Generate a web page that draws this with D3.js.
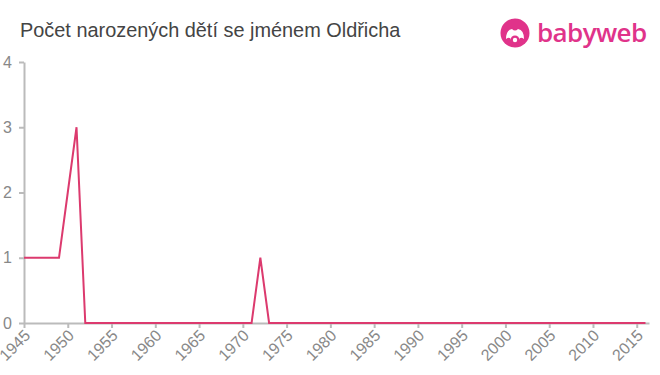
<!DOCTYPE html>
<html>
<head>
<meta charset="utf-8">
<script src="https://cdn.jsdelivr.net/npm/d3@7"></script>
<style>
    body { margin: 0; background: #fff; }
    #chart { width: 660px; height: 375px; }
    .axis path, .axis line { stroke: #bbb; stroke-width: 2; }
</style>
</head>
<body>
<div id="chart"></div>
<script>
// years 1945..2016
let years = d3.range(1945, 2017);
let counts = [1, 1, 1, 1, 1, 2, 3, 0, 0, 0,
              0, 0, 0, 0, 0, 0, 0, 0, 0, 0,
              0, 0, 0, 0, 0, 0, 0, 1, 0, 0,
              0, 0, 0, 0, 0, 0, 0, 0, 0, 0,
              0, 0, 0, 0, 0, 0, 0, 0, 0, 0,
              0, 0, 0, 0, 0, 0, 0, 0, 0, 0,
              0, 0, 0, 0, 0, 0, 0, 0, 0, 0,
              0, 0];
let xTicks = d3.range(1945, 2020, 5);
let yTicks = [0, 1, 2, 3, 4];

let data = years.map((y, i) => ({year: y, value: counts[i]}));

let margin = {top: 62, right: 11, bottom: 52, left: 24};
let width = 660 - margin.left - margin.right;
let height = 375 - margin.top - margin.bottom;
let font = "'Liberation Sans', Arial, sans-serif";

let svg = d3.select("#chart").append("svg")
    .attr("width", 660)
    .attr("height", 375);

// title
svg.append("text")
    .attr("x", 20)
    .attr("y", 37)
    .attr("fill", "#444")
    .attr("font-family", font)
    .attr("font-size", 19.9)
    .text("Počet narozených dětí se jménem Oldřicha");

// logo
let logo = svg.append("g").attr("transform", "translate(515,33)");
logo.append("circle").attr("r", 14.5).attr("fill", "#e0338a");
logo.append("path")
    .attr("d", "M-9,6 Q-9,-3 -3,-4 Q0,-1 3,-4 Q9,-3 9,6 Q5,3 4,7 L-4,7 Q-5,3 -9,6 Z")
    .attr("fill", "#fff");
logo.append("circle").attr("cx", 0).attr("cy", 7).attr("r", 4.5).attr("fill", "#e0338a");
logo.append("circle").attr("cx", 0).attr("cy", 7).attr("r", 2.2).attr("fill", "#fff");
svg.append("text")
    .attr("x", 537)
    .attr("y", 42)
    .attr("fill", "#e0338a")
    .attr("font-family", "'Open Sans', 'Noto Sans', sans-serif")
    .attr("font-weight", 600)
    .attr("font-size", 26)
    .attr("letter-spacing", "-0.6px")
    .text("babyweb");

let g = svg.append("g")
    .attr("transform", `translate(${margin.left},${margin.top})`);

let xScale = d3.scaleLinear()
    .domain([1945, 2016.4])
    .range([0, width]);

let yScale = d3.scaleLinear()
    .domain([0, 4])
    .range([height, 0]);

let xAxis = d3.axisBottom(xScale)
    .tickValues(xTicks)
    .tickFormat(d3.format("d"))
    .tickSize(5)
    .tickSizeOuter(0);

let yAxis = d3.axisLeft(yScale)
    .tickValues(yTicks)
    .tickFormat(d3.format("d"))
    .tickSize(5)
    .tickSizeOuter(0);

let xg = g.append("g")
    .attr("class", "x-axis axis")
    .attr("transform", `translate(0,${height})`)
    .call(xAxis)
    .attr("font-size", 16)
    .attr("font-family", font);

xg.selectAll("text")
    .attr("transform", "rotate(-45)")
    .attr("dx", "-0.3em")
    .attr("dy", "0.4em")
    .attr("fill", "#888")
    .style("text-anchor", "end");

let yg = g.append("g")
    .attr("class", "y-axis axis")
    .call(yAxis)
    .attr("font-size", 16)
    .attr("font-family", font);

yg.selectAll("text")
    .attr("x", -12)
    .attr("fill", "#888");

let line = d3.line()
    .x(d => xScale(d.year))
    .y(d => yScale(d.value));

g.append("path")
    .datum(data)
    .attr("fill", "none")
    .attr("stroke", "#dc3a6e")
    .attr("stroke-width", 2)
    .attr("d", line);
</script>
</body>
</html>
